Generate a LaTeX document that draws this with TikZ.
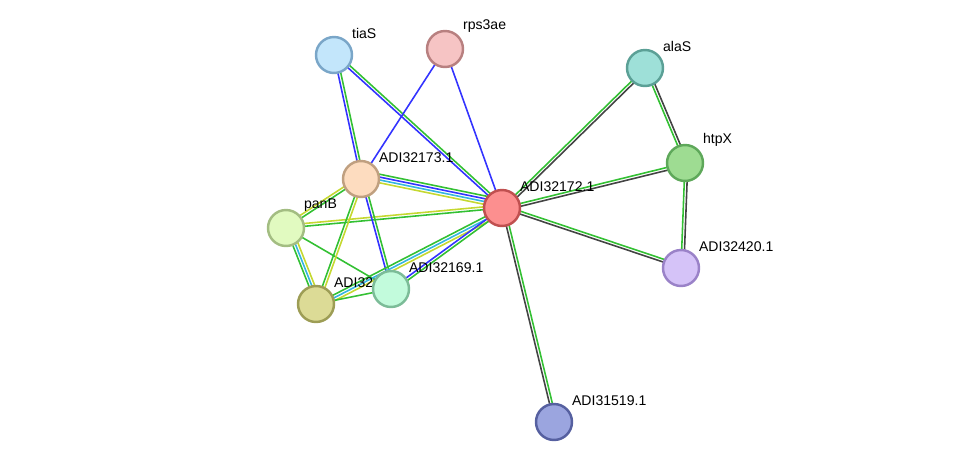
\documentclass[tikz,border=0pt]{standalone}
\usepackage{fontspec}
\setmainfont{Liberation Sans}
\usetikzlibrary{calc}
\definecolor{eGreen}{HTML}{33C033}
\definecolor{eBlue}{HTML}{3333FF}
\definecolor{eCyan}{HTML}{33B5E0}
\definecolor{eYellow}{HTML}{C5D830}
\definecolor{eBlack}{HTML}{444444}
\definecolor{fTiaS}{HTML}{C3E6FB}\definecolor{dTiaS}{HTML}{7AA6C8}
\definecolor{fRps}{HTML}{F6C4C4}\definecolor{dRps}{HTML}{B88080}
\definecolor{fAla}{HTML}{9EE0D8}\definecolor{dAla}{HTML}{5BA096}
\definecolor{fHtp}{HTML}{9EDC92}\definecolor{dHtp}{HTML}{5EA85A}
\definecolor{fA173}{HTML}{FDDCBF}\definecolor{dA173}{HTML}{C0A080}
\definecolor{fA172}{HTML}{FC8F8F}\definecolor{dA172}{HTML}{C05050}
\definecolor{fPan}{HTML}{E1FAC0}\definecolor{dPan}{HTML}{A3BD82}
\definecolor{fA420}{HTML}{D5C3F8}\definecolor{dA420}{HTML}{9A82C8}
\definecolor{fA171}{HTML}{DCDB96}\definecolor{dA171}{HTML}{9D9D55}
\definecolor{fA169}{HTML}{C2FBDC}\definecolor{dA169}{HTML}{7CBC98}
\definecolor{fA519}{HTML}{9BA5DF}\definecolor{dA519}{HTML}{5660A0}
\tikzset{
    prot/.style={circle, draw, line width=1.4pt, minimum size=0.72cm, inner sep=0pt},
    plabel/.style={font=\fontsize{8}{9}\selectfont, anchor=south west, inner sep=1pt},
    link/.style={line width=0.9pt}
}
% parallel coloured links between two proteins
\newcommand{\plink}[3]{%
    \foreach \col [count=\k] in {#3} {
        \pgfmathsetmacro{\off}{(\k-1)*1.6}
        \draw [link, \col] ($(#1)!\off pt!90:(#2)$) -- ($(#2)!\off pt!-90:(#1)$);
    }
}
\begin{document}
\begin{tikzpicture}[x=0.02cm, y=-0.02cm]
    \useasboundingbox (0,0) rectangle (975,468);

    % proteins (coordinates first, drawn later)
    \coordinate (tiaS) at (334,55);
    \coordinate (rps3ae) at (445,49);
    \coordinate (alaS) at (645,68);
    \coordinate (htpX) at (685,163);
    \coordinate (c173) at (361,179);
    \coordinate (c172) at (502,208);
    \coordinate (panB) at (286,228);
    \coordinate (c420) at (681,268);
    \coordinate (c169) at (391,289);
    \coordinate (c171) at (316,304);
    \coordinate (c519) at (554,422);

    % links
    \plink{tiaS}{c173}{eBlue,eGreen}
    \plink{tiaS}{c172}{eBlue,eGreen}
    \plink{rps3ae}{c173}{eBlue}
    \plink{rps3ae}{c172}{eBlue}
    \plink{alaS}{c172}{eGreen,eBlack}
    \plink{alaS}{htpX}{eGreen,eBlack}
    \plink{htpX}{c172}{eGreen,eBlack}
    \plink{htpX}{c420}{eGreen,eBlack}
    \plink{c172}{c420}{eBlack,eGreen}
    \plink{c172}{c519}{eBlack,eGreen}
    \plink{c173}{c172}{eYellow,eCyan,eBlue,eGreen}
    \plink{panB}{c173}{eGreen,eYellow}
    \plink{panB}{c172}{eGreen,eYellow}
    \plink{panB}{c171}{eGreen,eCyan,eYellow}
    \plink{panB}{c169}{eGreen}
    \plink{c173}{c171}{eGreen,eYellow}
    \plink{c173}{c169}{eBlue,eGreen}
    \plink{c172}{c171}{eGreen,eCyan,eYellow}
    \plink{c172}{c169}{eBlue,eGreen}
    \plink{c171}{c169}{eGreen}

    % nodes
    \node (ntiaS) [prot, fill=fTiaS, draw=dTiaS] at (tiaS) {};
    \node [plabel] at ($(tiaS)+(16,-14)$) {tiaS};
    \node (nrps3ae) [prot, fill=fRps, draw=dRps] at (rps3ae) {};
    \node [plabel] at ($(rps3ae)+(16,-14)$) {rps3ae};
    \node (nalaS) [prot, fill=fAla, draw=dAla] at (alaS) {};
    \node [plabel] at ($(alaS)+(16,-14)$) {alaS};
    \node (nhtpX) [prot, fill=fHtp, draw=dHtp] at (htpX) {};
    \node [plabel] at ($(htpX)+(16,-14)$) {htpX};
    \node (n173) [prot, fill=fA173, draw=dA173] at (c173) {};
    \node [plabel] at ($(c173)+(16,-14)$) {ADI32173.1};
    \node (n172) [prot, fill=fA172, draw=dA172] at (c172) {};
    \node [plabel] at ($(c172)+(16,-14)$) {ADI32172.1};
    \node (npanB) [prot, fill=fPan, draw=dPan] at (panB) {};
    \node [plabel] at ($(panB)+(16,-14)$) {panB};
    \node (n420) [prot, fill=fA420, draw=dA420] at (c420) {};
    \node [plabel] at ($(c420)+(16,-14)$) {ADI32420.1};
    \node (n171) [prot, fill=fA171, draw=dA171] at (c171) {};
    \node [plabel] at ($(c171)+(16,-14)$) {ADI32171.1};
    \node (n169) [prot, fill=fA169, draw=dA169] at (c169) {};
    \node [plabel] at ($(c169)+(16,-14)$) {ADI32169.1};
    \node (n519) [prot, fill=fA519, draw=dA519] at (c519) {};
    \node [plabel] at ($(c519)+(16,-14)$) {ADI31519.1};
\end{tikzpicture}
\end{document}
